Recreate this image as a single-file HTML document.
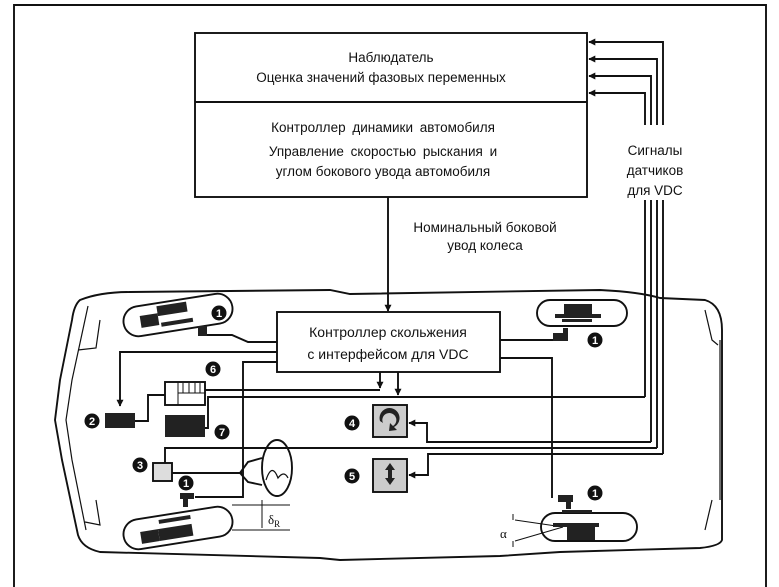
<!DOCTYPE html>
<html><head><meta charset="utf-8"><style>
html,body{margin:0;padding:0;background:#fff}
svg{display:block}
text{font-family:"Liberation Sans",sans-serif;fill:#111}
</style></head><body>
<svg width="779" height="587" viewBox="0 0 779 587" xmlns="http://www.w3.org/2000/svg">
<defs>
<marker id="ah" viewBox="0 0 10 10" refX="9" refY="5" markerWidth="7" markerHeight="7" orient="auto-start-reverse" markerUnits="userSpaceOnUse"><path d="M0,0 L10,5 L0,10 z" fill="#111"/></marker>
</defs>
<g fill="none" stroke="#111" stroke-width="1.9">
<path d="M14,587 L14,5 L766,5 L766,587"/>
<rect x="195" y="33" width="392" height="164"/>
<line x1="195" y1="102" x2="587" y2="102"/>
<line x1="388" y1="197" x2="388" y2="311" marker-end="url(#ah)"/>
<path d="M645,397 L645,200 M645,125 L645,93 L589,93" marker-end="url(#ah)"/>
<path d="M651,442 L651,200 M651,125 L651,76 L589,76" marker-end="url(#ah)"/>
<path d="M657,448 L657,200 M657,125 L657,59 L589,59" marker-end="url(#ah)"/>
<path d="M663,454 L663,200 M663,125 L663,42 L589,42" marker-end="url(#ah)"/>
<path d="M80,300 Q100,292 130,292 L330,290 L350,294 L600,290 Q640,292 660,298 L705,300 Q722,305 722,330 L722,540 Q720,546 700,548 L560,552 L500,556 L340,560 L320,558 L100,552 Q82,548 78,535 L62,460 L55,420 L60,380 L72,320 Q74,305 80,300 Z"/>
<path d="M88,306 L72,380 L66,420 L72,460 L86,530" stroke-width="1.2"/>
<path d="M100,320 L96,348 L78,350 M96,500 L100,525 L85,522 M705,310 L712,340 L718,345 M712,500 L705,530 M720,340 L720,500" stroke-width="1.2"/>
<rect x="277" y="312" width="223" height="60" fill="#fff"/>
<path d="M205,335 L232,335 L248,342 L277,342"/>
<path d="M277,352 L120,352 L120,406" marker-end="url(#ah)"/>
<path d="M277,362 L243,362 L243,497 L195,497"/>
<path d="M500,340 L555,340"/>
<path d="M500,358 L552,358 L552,498"/>
<path d="M380,372 L380,388" marker-end="url(#ah)"/>
<path d="M398,372 L398,395" marker-end="url(#ah)"/>
<path d="M205,390 L380,390"/>
<path d="M205,428 L208,428 L208,397 L645,397"/>
<path d="M135,421 L148,421 L148,395 L165,395"/>
<path d="M651,442 L427,442 L427,423 L409,423" marker-end="url(#ah)"/>
<path d="M657,448 L165,448 L165,463"/>
<path d="M663,454 L428,454 L428,475 L409,475" marker-end="url(#ah)"/>
<path d="M172,473 L242,473"/>
<ellipse cx="277" cy="468" rx="15" ry="28"/>
<path d="M262,458 L248,462 L240,473 L248,482 L262,485"/>
<path d="M266,480 Q272,462 278,478 Q284,470 288,478" stroke-width="1.2"/>
<g transform="rotate(-9 178 315)"><rect x="123" y="300" width="110" height="30" rx="15"/></g>
<g transform="rotate(-9 178 528)"><rect x="123" y="513" width="110" height="30" rx="15"/></g>
<rect x="537" y="300" width="90" height="26" rx="13"/>
<rect x="541" y="513" width="96" height="28" rx="14"/>
<path d="M232,505 L290,505 M232,530 L290,530 M262,500 L262,528" stroke-width="1"/>
<path d="M515,520 L563,527 M515,541 L563,527 M513,514 L513,520 M513,541 L513,547" stroke-width="1"/>
<rect x="165" y="382" width="40" height="23" fill="#fff"/>
<path d="M178,382 L178,405 M183,383 L183,393 M189,383 L189,393 M195,383 L195,393 M200,383 L200,393 M178,393 L205,393" stroke-width="1"/>
<rect x="153" y="463" width="19" height="18" fill="#ddd"/>
<rect x="373" y="405" width="34" height="32" fill="#ccc"/>
<rect x="373" y="459" width="34" height="33" fill="#ccc"/>
</g>
<g fill="#222">
<rect x="105" y="413" width="30" height="15"/>
<rect x="165" y="415" width="40" height="22"/>
<g transform="rotate(-9 178 315)"><rect x="140" y="310" width="18" height="12"/><rect x="158" y="303" width="30" height="10"/><rect x="160" y="320" width="32" height="4"/></g>
<rect x="198" y="326" width="9" height="10"/>
<g transform="rotate(-9 178 528)"><rect x="140" y="526" width="18" height="12"/><rect x="158" y="526" width="34" height="12"/><rect x="160" y="517" width="32" height="4"/></g>
<rect x="180" y="493" width="14" height="6"/><rect x="183" y="498" width="5" height="9"/>
<rect x="564" y="304" width="28" height="12"/><rect x="555" y="314" width="46" height="4"/><rect x="562" y="319" width="30" height="3"/>
<rect x="553" y="333" width="15" height="8"/><rect x="563" y="328" width="5" height="6"/>
<rect x="558" y="495" width="15" height="7"/><rect x="566" y="500" width="5" height="9"/>
<rect x="562" y="510" width="30" height="3"/><rect x="553" y="523" width="46" height="4"/><rect x="567" y="527" width="28" height="13"/>
<path d="M380,421 a10,10 0 1 1 14,6 l3,3 l-8,1 l1,-8 l3,3 a7,7 0 1 0 -10,-3z"/>
<path d="M390,463 l-5,7 h3 v8 h-3 l5,7 l5,-7 h-3 v-8 h3z"/>
</g>
<g font-size="11" font-weight="bold" text-anchor="middle">
<g><circle cx="219" cy="313" r="7.5" fill="#111"/><text x="219" y="317" style="fill:#fff">1</text></g>
<g><circle cx="595" cy="340" r="7.5" fill="#111"/><text x="595" y="344" style="fill:#fff">1</text></g>
<g><circle cx="186" cy="483" r="7.5" fill="#111"/><text x="186" y="487" style="fill:#fff">1</text></g>
<g><circle cx="595" cy="493" r="7.5" fill="#111"/><text x="595" y="497" style="fill:#fff">1</text></g>
<g><circle cx="92" cy="421" r="7.5" fill="#111"/><text x="92" y="425" style="fill:#fff">2</text></g>
<g><circle cx="140" cy="465" r="7.5" fill="#111"/><text x="140" y="469" style="fill:#fff">3</text></g>
<g><circle cx="352" cy="423" r="7.5" fill="#111"/><text x="352" y="427" style="fill:#fff">4</text></g>
<g><circle cx="352" cy="476" r="7.5" fill="#111"/><text x="352" y="480" style="fill:#fff">5</text></g>
<g><circle cx="213" cy="369" r="7.5" fill="#111"/><text x="213" y="373" style="fill:#fff">6</text></g>
<g><circle cx="222" cy="432" r="7.5" fill="#111"/><text x="222" y="436" style="fill:#fff">7</text></g>
</g>
<g font-size="13.5" text-anchor="middle">
<text x="391" y="62">Наблюдатель</text>
<text x="381" y="82">Оценка значений фазовых переменных</text>
<text x="383" y="132" word-spacing="3">Контроллер динамики автомобиля</text>
<text x="383" y="156" word-spacing="3">Управление скоростью рыскания и</text>
<text x="383" y="176">углом бокового увода автомобиля</text>
<text x="485" y="232">Номинальный боковой</text>
<text x="485" y="250">увод колеса</text>
<text x="655" y="155">Сигналы</text>
<text x="655" y="175">датчиков</text>
<text x="655" y="195">для VDC</text>
<text x="388" y="337" font-size="14">Контроллер скольжения</text>
<text x="388" y="359" font-size="14">с интерфейсом для VDC</text>
</g>
<text x="268" y="524" font-size="13" style="font-family:'Liberation Serif',serif">δ<tspan font-size="9" dy="3">R</tspan></text>
<text x="500" y="538" font-size="13" style="font-family:'Liberation Serif',serif">α</text>
</svg>
</body></html>
